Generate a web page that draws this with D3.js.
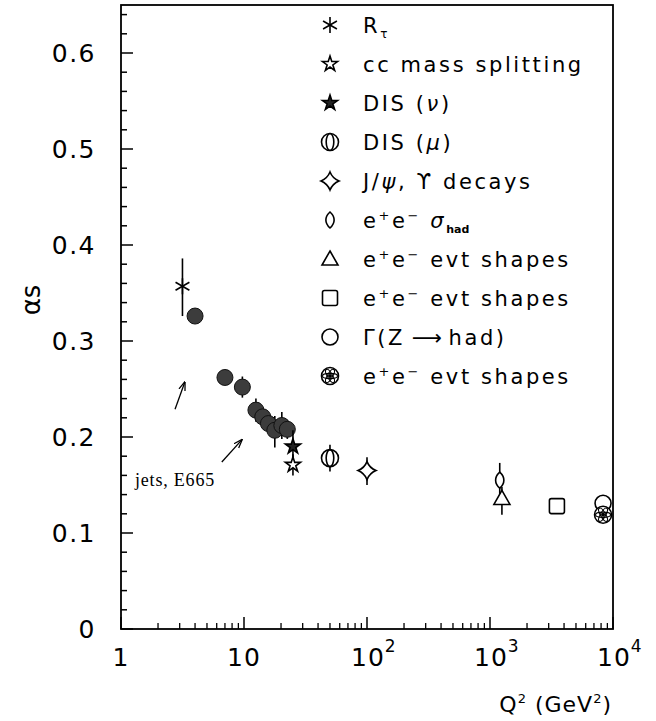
<!DOCTYPE html>
<html>
<head>
<meta charset="utf-8">
<script src="https://cdn.jsdelivr.net/npm/d3@7"></script>
<style>
  body { margin: 0; background: #fff; }
  svg { display: block; }
</style>
</head>
<body>
<svg id="chart"></svg>
<script>
// measurements: [Q2, alpha_s, low, high]
const rTau     = [[3.16, 0.357, 0.326, 0.386]];
const ccSplit  = [[25, 0.171, 0.160, 0.182]];
const disNu    = [[25, 0.190, 0.176, 0.207]];
const disMu    = [[50, 0.178, 0.164, 0.192]];
const psiUps   = [[100, 0.165, 0.150, 0.179]];
const sigHad   = [[1200, 0.155, 0.140, 0.173]];
const evtTri   = [[1250, 0.136, 0.119, 0.148]];
const evtSq    = [[3500, 0.128, 0.128, 0.128]];
const gammaZ   = [[8300, 0.131, 0.131, 0.131]];
const evtZ     = [[8300, 0.119, 0.119, 0.119]];
// jets, E665
const e665 = [
  [4.0, 0.326, 0.326, 0.326], [7.0, 0.262, 0.262, 0.262], [9.7, 0.252, 0.241, 0.263],
  [12.5, 0.228, 0.216, 0.240], [14.2, 0.221, 0.211, 0.231], [15.8, 0.214, 0.204, 0.224],
  [17.8, 0.207, 0.189, 0.222], [20.3, 0.212, 0.198, 0.226], [22.5, 0.208, 0.198, 0.218]
];

const yTicks = [0, 0.1, 0.2, 0.3, 0.4, 0.5, 0.6];
const xDecades = [1, 10, 100, 1000, 10000];
const xTickLabels = [["1", ""], ["10", ""], ["10", "2"], ["10", "3"], ["10", "4"]];

// legend entries: marker kind + text segments [text, style]
const legendRows = [
  ["asterisk", [["R", ""], ["τ", "sub"]]],
  ["openStar", [["cc mass splitting", ""]]],
  ["fillStar", [["DIS (", ""], ["ν", "it"], [")", ""]]],
  ["muCircle", [["DIS (", ""], ["μ", "it"], [")", ""]]],
  ["cross4", [["J/", ""], ["ψ", "it"], [", ϒ decays", ""]]],
  ["lens", [["e", ""], ["+", "sup"], ["e", ""], ["−", "sup"], [" ", ""], ["σ", "it"], ["had", "subb"]]],
  ["triangle", [["e", ""], ["+", "sup"], ["e", ""], ["−", "sup"], [" evt shapes", ""]]],
  ["square", [["e", ""], ["+", "sup"], ["e", ""], ["−", "sup"], [" evt shapes", ""]]],
  ["circle", [["Γ(Z", ""], ["⟶", "arrow"], ["had)", ""]]],
  ["flower", [["e", ""], ["+", "sup"], ["e", ""], ["−", "sup"], [" evt shapes", ""]]]
];

const series = [
  [rTau, "asterisk"], [e665, "dot"], [ccSplit, "openStar"], [disNu, "fillStar"],
  [disMu, "muCircle"], [psiUps, "cross4"], [sigHad, "lens"], [evtTri, "triangle"],
  [evtSq, "square"], [gammaZ, "circle"], [evtZ, "flower"]
];

// annotation arrows, [[q2, a], [q2, a]]
const arrows = [
  [[2.75, 0.229], [3.3, 0.257]],
  [[6.6, 0.174], [9.6, 0.197]]
];

const W = 656, H = 721;
const svg = d3.select("#chart").attr("width", W).attr("height", H);

const x = d3.scaleLog().domain([1, 1e4]).range([121, 613]);
const y = d3.scaleLinear().domain([0, 0.65]).range([629, 5]);

const font = "'DejaVu Sans', sans-serif";

// frame
svg.append("rect")
  .attr("x", 121).attr("y", 5)
  .attr("width", 613 - 121).attr("height", 629 - 5)
  .attr("fill", "none").attr("stroke", "#000").attr("stroke-width", 1.8);

// y ticks (inward)
const yMinor = d3.range(0, 0.651, 0.02);
svg.append("g").selectAll("line").data(yMinor).join("line")
  .attr("x1", 121).attr("x2", d => Math.abs(d * 10 - Math.round(d * 10)) < 1e-6 ? 133 : 127)
  .attr("y1", d => y(d)).attr("y2", d => y(d))
  .attr("stroke", "#000").attr("stroke-width", 1.5);

svg.append("g").selectAll("text").data(yTicks).join("text")
  .attr("x", 96).attr("y", d => y(d) + 9)
  .attr("text-anchor", "end")
  .style("font-family", font).style("font-size", "25px").style("letter-spacing", "1.5px")
  .text(d => d === 0 ? "0" : d3.format(".1f")(d));

// x ticks (inward)
const xMinor = [];
xDecades.slice(0, -1).forEach(dec => { for (let k = 2; k <= 9; k++) xMinor.push(dec * k); });
svg.append("g").selectAll("line").data(xMinor).join("line")
  .attr("x1", d => x(d)).attr("x2", d => x(d))
  .attr("y1", 629).attr("y2", 623)
  .attr("stroke", "#000").attr("stroke-width", 1.3);
svg.append("g").selectAll("line").data(xDecades).join("line")
  .attr("x1", d => x(d)).attr("x2", d => x(d))
  .attr("y1", 629).attr("y2", 617)
  .attr("stroke", "#000").attr("stroke-width", 1.5);

const xl = svg.append("g").selectAll("text").data(xDecades).join("text")
  .attr("x", d => x(d)).attr("y", 666)
  .style("font-family", font).style("font-size", "25px").style("letter-spacing", "1px")
  .attr("text-anchor", "middle");
xl.append("tspan").text((d, i) => xTickLabels[i][0]);
xl.append("tspan").attr("dy", -14).style("font-size", "17px").text((d, i) => xTickLabels[i][1]);
xl.filter((d, i) => xTickLabels[i][1] !== "").attr("text-anchor", "start")
  .attr("x", d => x(d) - 16);

// axis titles
svg.append("text")
  .attr("transform", "translate(40,300) rotate(-90)")
  .attr("text-anchor", "middle")
  .style("font-family", font).style("font-size", "26px")
  .text("αs");

const xt = svg.append("text").attr("x", 612).attr("y", 712)
  .attr("text-anchor", "end")
  .style("font-family", font).style("font-size", "22px").style("letter-spacing", "1px");
xt.append("tspan").text("Q");
xt.append("tspan").attr("dy", -9).style("font-size", "13px").text("2");
xt.append("tspan").attr("dy", 9).text(" (GeV");
xt.append("tspan").attr("dy", -9).style("font-size", "13px").text("2");
xt.append("tspan").attr("dy", 9).text(")");

// marker drawing
function drawMarker(g, kind) {
  const st = (s) => s.attr("stroke", "#000").attr("stroke-width", 1.6);
  if (kind === "asterisk") {
    [90, 30, 150].forEach(a => {
      const r = 8, c = Math.cos(a * Math.PI / 180) * r, s = Math.sin(a * Math.PI / 180) * r;
      st(g.append("line").attr("x1", -c).attr("y1", -s).attr("x2", c).attr("y2", s));
    });
  } else if (kind === "openStar" || kind === "fillStar") {
    st(g.append("path").attr("d", d3.symbol(d3.symbolStar, 70)())
      .attr("fill", kind === "fillStar" ? "#222" : "#fff"));
  } else if (kind === "muCircle") {
    st(g.append("circle").attr("r", 8.5).attr("fill", "#fff"));
    st(g.append("ellipse").attr("rx", 3.8).attr("ry", 8.5).attr("fill", "none"));
  } else if (kind === "cross4") {
    const r = 9, c = 2.6;
    st(g.append("path").attr("fill", "#fff")
      .attr("d", `M0,${-r}Q${c},${-c} ${r},0Q${c},${c} 0,${r}Q${-c},${c} ${-r},0Q${-c},${-c} 0,${-r}Z`));
  } else if (kind === "lens") {
    st(g.append("path").attr("fill", "#fff")
      .attr("d", "M0,-8C5.5,-3 5.5,3 0,8C-5.5,3 -5.5,-3 0,-8Z"));
  } else if (kind === "triangle") {
    st(g.append("path").attr("fill", "#fff").attr("d", "M0,-8L8,6L-8,6Z"));
  } else if (kind === "square") {
    st(g.append("rect").attr("x", -7.5).attr("y", -7.5).attr("width", 15).attr("height", 15)
      .attr("rx", 2).attr("fill", "#fff"));
  } else if (kind === "circle") {
    st(g.append("circle").attr("r", 8).attr("fill", "#fff"));
  } else if (kind === "flower") {
    st(g.append("circle").attr("r", 8.5).attr("fill", "#fff"));
    [0, 60, 120].forEach(a => {
      st(g.append("ellipse").attr("rx", 7.5).attr("ry", 2.6).attr("fill", "none")
        .attr("transform", `rotate(${a})`)).attr("stroke-width", 1.1);
    });
    g.append("circle").attr("r", 2).attr("fill", "#000");
  } else if (kind === "dot") {
    g.append("circle").attr("r", 8).attr("fill", "#3c3c3c").attr("stroke", "#111").attr("stroke-width", 1);
  }
}

// data points
series.forEach(([pts, kind]) => {
  const grp = svg.append("g");
  grp.selectAll("line").data(pts.filter(p => p[3] > p[2])).join("line")
    .attr("x1", d => x(d[0])).attr("x2", d => x(d[0]))
    .attr("y1", d => y(d[2])).attr("y2", d => y(d[3]))
    .attr("stroke", "#000").attr("stroke-width", 1.6);
  grp.selectAll("g").data(pts).join("g")
    .attr("transform", d => `translate(${x(d[0])},${y(d[1])})`)
    .each(function() { drawMarker(d3.select(this), kind); });
});

// annotation arrows
const defs = svg.append("defs");
defs.append("marker").attr("id", "ah").attr("viewBox", "0 0 10 10")
  .attr("refX", 9).attr("refY", 5).attr("markerWidth", 7).attr("markerHeight", 7)
  .attr("orient", "auto-start-reverse")
  .append("path").attr("d", "M0,1.5L10,5L0,8.5").attr("fill", "none").attr("stroke", "#000").attr("stroke-width", 1.4);
svg.append("g").selectAll("line").data(arrows).join("line")
  .attr("x1", d => x(d[0][0])).attr("y1", d => y(d[0][1]))
  .attr("x2", d => x(d[1][0])).attr("y2", d => y(d[1][1]))
  .attr("stroke", "#000").attr("stroke-width", 1.3)
  .attr("marker-end", "url(#ah)");

svg.append("text")
  .attr("x", x(1.3)).attr("y", y(0.149))
  .style("font-family", "'Liberation Serif', 'DejaVu Serif', serif").style("font-size", "18px")
  .style("letter-spacing", "0.8px")
  .text("jets, E665");

// legend
const ly = d3.scaleLinear().domain([0, legendRows.length - 1]).range([25, 376]);
legendRows.forEach(([kind, segs], i) => {
  const g = svg.append("g").attr("transform", `translate(330,${ly(i)})`);
  drawMarker(g, kind);
  const t = svg.append("text").attr("x", 363).attr("y", ly(i) + 8)
    .style("font-family", font).style("font-size", "21px").style("letter-spacing", "2.6px");
  let shift = 0;
  segs.forEach(([txt, sty]) => {
    const ts = t.append("tspan").text(txt);
    let target = 0;
    if (sty === "sub") { target = 5; ts.style("font-size", "12px"); }
    if (sty === "subb") { target = 5; ts.style("font-size", "11px").style("font-weight", "bold").style("letter-spacing", "0px"); }
    if (sty === "sup") { target = -8; ts.style("font-size", "13px"); }
    if (sty === "it") ts.style("font-style", "italic");
    if (sty === "arrow") ts.style("font-size", "21px").style("letter-spacing", "0px").text(" ⟶ ");
    ts.attr("dy", target - shift);
    shift = target;
  });
});
</script>
</body>
</html>
